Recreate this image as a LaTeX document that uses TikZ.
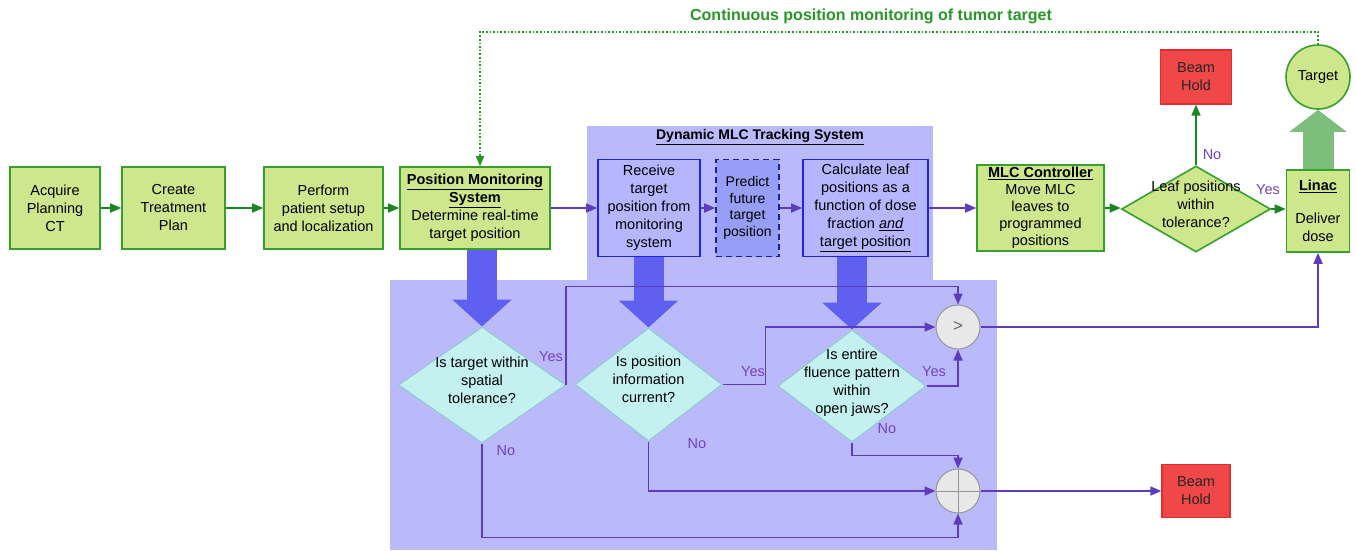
\documentclass[tikz,border=0pt]{standalone}
\usepackage{fontspec}
\setmainfont{Liberation Sans}
\usepackage{xcolor}
\usepackage{tikz}
\usetikzlibrary{shapes, arrows.meta, calc}

\definecolor{pmfill}{RGB}{206,230,140}
\definecolor{pmborder}{RGB}{55,160,45}
\definecolor{pmarrow}{RGB}{25,135,35}
\definecolor{panelblue}{RGB}{186,186,250}
\definecolor{tfill}{RGB}{182,182,255}
\definecolor{tborder}{RGB}{35,35,230}
\definecolor{pfill}{RGB}{150,158,245}
\definecolor{pborder}{RGB}{30,30,150}
\definecolor{bigblue}{RGB}{95,95,240}
\definecolor{qfill}{RGB}{196,240,240}
\definecolor{qborder}{RGB}{140,205,205}
\definecolor{cfill}{RGB}{232,232,232}
\definecolor{cborder}{RGB}{150,150,150}
\definecolor{tline}{RGB}{95,60,190}
\definecolor{tlabel}{RGB}{115,65,195}
\definecolor{holdfill}{RGB}{240,72,72}
\definecolor{holdborder}{RGB}{225,45,45}
\definecolor{biggreen}{RGB}{125,190,125}
\definecolor{dotgreen}{RGB}{40,150,40}

\newcommand{\dtext}[1]{\smash{\makebox[0pt]{\begin{tabular}{@{}c@{}}#1\end{tabular}}}}

\tikzset{
  txt/.style={font=\fontsize{14.5}{18}\selectfont},
  greenbox/.style={txt, draw=pmborder, line width=1.6pt, fill=pmfill, align=center, inner sep=0pt},
  trackbox/.style={txt, draw=tborder, line width=1.6pt, fill=tfill, align=center, inner sep=0pt},
  predictbox/.style={draw=pborder, line width=1.6pt, dash pattern=on 6pt off 4pt, fill=pfill, align=center, inner sep=0pt, font=\fontsize{14}{16.5}\selectfont},
  holdbox/.style={txt, draw=holdborder, line width=1.2pt, fill=holdfill, align=center, inner sep=0pt, text=black!85},
  question/.style={txt, diamond, draw=qborder, line width=1pt, fill=qfill, inner sep=0pt},
  gquestion/.style={txt, diamond, draw=pmborder, line width=1.6pt, fill=pmfill, inner sep=0pt},
  combine/.style={circle, draw=cborder, line width=1pt, fill=cfill, minimum size=44pt, inner sep=0pt, font=\fontsize{17}{17}\selectfont, text=black!60},
  garrow/.style={draw=pmarrow, line width=1.6pt, -{Triangle[length=11pt,width=9pt]}},
  parrow/.style={draw=tline, line width=1.6pt, -{Triangle[length=11pt,width=9pt]}},
  bigarrow/.style={draw=bigblue, line width=30pt, -{Triangle[length=27pt,width=58pt]}},
  yesno/.style={txt, text=tlabel, inner sep=0pt},
}

\begin{document}
\begin{tikzpicture}[x=1pt,y=1pt,yscale=-1,xscale=1]
\useasboundingbox (0,0) rectangle (1356,550);

%Shapes: tracking system panels
\fill[panelblue] (587,126) rectangle (933,280);
\fill[panelblue] (390,280) rectangle (997,550);

% Text Node
\node[txt, font=\fontsize{14}{16}\selectfont\bfseries] (dmlc) at (760,137) {\underline{Dynamic MLC Tracking System}};
% Text Node
\node[txt, font=\fontsize{16}{18}\selectfont\bfseries, text=dotgreen] (ctitle) at (871,16) {Continuous position monitoring of tumor target};

% Planning chain
\node[greenbox, minimum width=90pt, minimum height=82pt] (acq) at (55,208) {Acquire\\Planning\\CT};
\node[greenbox, minimum width=103pt, minimum height=82pt] (plan) at (173.5,208) {Create\\Treatment\\Plan};
\node[greenbox, minimum width=119pt, minimum height=82pt] (setup) at (323.5,208) {Perform\\patient setup\\and localization};
\node[greenbox, minimum width=150pt, minimum height=82pt] (pms) at (475,208) {\underline{\textbf{Position Monitoring}}\\\underline{\textbf{System}}\\Determine real-time\\target position};

% Tracking boxes
\node[trackbox, minimum width=102pt, minimum height=97pt] (recv) at (649,208) {Receive\\target\\position from\\monitoring\\system};
\node[predictbox, minimum width=63pt, minimum height=97pt] (pred) at (747.5,208) {Predict\\future\\target\\position};
\node[trackbox, minimum width=125pt, minimum height=97pt] (calc) at (865.5,208) {Calculate leaf\\positions as a\\function of dose\\fraction \underline{\textit{and}}\\\underline{target position}};

% Delivery
\node[greenbox, minimum width=127pt, minimum height=86pt, font=\fontsize{14.5}{17}\selectfont] (mlc) at (1040.5,208) {\underline{\textbf{MLC Controller}}\\Move MLC\\leaves to\\programmed\\positions};
\node[gquestion, minimum width=149pt, minimum height=86pt] (leaf) at (1196,209) {\dtext{Leaf positions\\within\\tolerance?}};
\node[greenbox, minimum width=63pt, minimum height=82pt] (linac) at (1318,211) {\underline{\textbf{Linac}}\\[15pt]Deliver\\dose};
\node[greenbox, circle, minimum size=64pt] (target) at (1318,77) {Target};
\node[holdbox, minimum width=71pt, minimum height=54pt] (hold1) at (1196,77) {Beam\\Hold};
\node[holdbox, minimum width=68pt, minimum height=53pt] (hold2) at (1196,491) {Beam\\Hold};

% Checks
\node[question, minimum width=167pt, minimum height=116pt] (chk1) at (482,385) {\dtext{Is target within\\spatial\\tolerance?}};
\node[question, minimum width=147pt, minimum height=113pt] (chk2) at (648.5,384.5) {\dtext{Is position\\information\\current?}};
\node[question, minimum width=148pt, minimum height=112pt] (chk3) at (852,386) {\dtext{Is entire\\fluence pattern\\within\\open jaws?}};
\node[combine] (gt) at (958,327) {>};
\node[combine] (xo) at (958,491) {};
\draw[cborder, line width=1pt] (xo.north) -- (xo.south) (xo.west) -- (xo.east);

% Big arrows
\draw[bigarrow] (chk1.north |- pms.south) -- (chk1.north);
\draw[bigarrow] (chk2.north |- recv.south) -- (chk2.north);
\draw[bigarrow] (chk3.north |- calc.south) -- (chk3.north);
\draw[draw=biggreen, line width=31pt, -{Triangle[length=22pt,width=56pt]}] (linac.north) -- (target.south);

%Straight Lines: planning chain
\draw[garrow] (acq.east) -- (plan.west);
\draw[garrow] (plan.east) -- (setup.west);
\draw[garrow] (setup.east) -- (pms.west);
\draw[parrow] (pms.east) -- (recv.west);
\draw[parrow] (recv.east) -- (pred.west);
\draw[parrow] (pred.east) -- (calc.west);
\draw[parrow] (calc.east) -- (mlc.west);
\draw[garrow] (mlc.east) -- (mlc.east -| leaf.west);
\draw[garrow] (leaf.east) -- (leaf.east -| linac.west);
\draw[garrow] (leaf.north) -- (hold1.south);
\draw[dotgreen, line width=1.6pt, dotted, -{Triangle[length=10pt,width=8pt]}] (target.north) -- ++(0,-12) -| ([xshift=5pt]pms.north);

%Straight Lines: checks
\draw[parrow] (chk1.east) |- ($(gt.north)+(0,-18)$) -- (gt.north);
\draw[parrow] (chk2.east) -- ++(43,0) |- (gt.west);
\draw[parrow] (chk3.east) -| (gt.south);
\draw[parrow] (chk3.south) -- ++(0,13) -| (xo.north);
\draw[parrow] (chk2.south) |- (xo.west);
\draw[parrow] (chk1.south) |- ($(xo.south)+(0,24)$) -- (xo.south);
\draw[parrow] (gt.east) -| (linac.south);
\draw[parrow] (xo.east) -- (hold2.west);

% Text Node
\node[yesno] (yes1) at (551,357) {Yes};
\node[yesno] (no1) at (506,451) {No};
\node[yesno] (yes2) at (753,372) {Yes};
\node[yesno] (no2) at (697,444) {No};
\node[yesno] (yes3) at (934,372) {Yes};
\node[yesno] (no3) at (887,429) {No};
\node[yesno] (no4) at (1212,155) {No};
\node[yesno] (yes4) at (1268,190) {Yes};

\end{tikzpicture}
\end{document}
